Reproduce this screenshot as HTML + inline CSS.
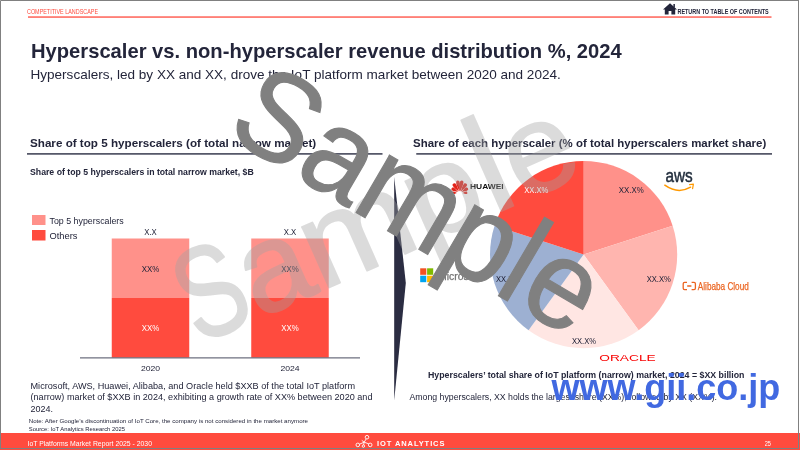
<!DOCTYPE html>
<html><head><meta charset="utf-8"><title>Hyperscaler vs. non-hyperscaler revenue distribution</title>
<style>
html,body{margin:0;padding:0;background:#fff;}
body{width:800px;height:450px;overflow:hidden;}
svg{display:block;font-family:"Liberation Sans",sans-serif;}
</style></head><body>
<svg width="800" height="450" viewBox="0 0 800 450">
<rect x="0" y="0" width="800" height="450" fill="#ffffff"/>
<text x="27" y="13.5" font-size="6.3" font-weight="normal" fill="#ff4b3e" textLength="71.00" lengthAdjust="spacingAndGlyphs">COMPETITIVE LANDSCAPE</text>
<rect x="28" y="16.4" width="743.5" height="1.3" fill="#ff4b3e"/>
<path d="M663 9.6 L670 3.2 L677 9.6 L675.2 9.6 L675.2 14.6 L671.4 14.6 L671.4 11 L668.6 11 L668.6 14.6 L664.8 14.6 L664.8 9.6 Z" fill="#23253a"/>
<rect x="673.4" y="4" width="1.5" height="3.5" fill="#23253a"/>
<text x="677.5" y="13.6" font-size="6.4" font-weight="bold" fill="#23253a" textLength="91.25" lengthAdjust="spacingAndGlyphs">RETURN TO TABLE OF CONTENTS</text>
<text x="31" y="58" font-size="19.8" font-weight="bold" fill="#23253a" textLength="590.75" lengthAdjust="spacingAndGlyphs">Hyperscaler vs. non-hyperscaler revenue distribution %, 2024</text>
<text x="30.5" y="79" font-size="12.6" font-weight="normal" fill="#23253a" textLength="530.25" lengthAdjust="spacingAndGlyphs">Hyperscalers, led by XX and XX, drove the IoT platform market between 2020 and 2024.</text>
<text x="30" y="147" font-size="11.2" font-weight="bold" fill="#23253a" textLength="286.25" lengthAdjust="spacingAndGlyphs">Share of top 5 hyperscalers (of total narrow market)</text>
<text x="413" y="147" font-size="11.2" font-weight="bold" fill="#23253a" textLength="353.25" lengthAdjust="spacingAndGlyphs">Share of each hyperscaler (% of total hyperscalers market share)</text>
<rect x="27" y="153.15" width="355.5" height="1.5" fill="#3a3c50"/>
<rect x="416.25" y="153.15" width="355.75" height="1.5" fill="#3a3c50"/>
<text x="30" y="174.5" font-size="8.4" font-weight="bold" fill="#23253a" textLength="223.75" lengthAdjust="spacingAndGlyphs">Share of top 5 hyperscalers in total narrow market, $B</text>
<rect x="32" y="215" width="13.5" height="10" fill="#ff918a"/>
<rect x="32" y="230" width="13.5" height="10.5" fill="#ff4b3e"/>
<text x="49.5" y="224" font-size="9" font-weight="normal" fill="#23253a" textLength="74.25" lengthAdjust="spacingAndGlyphs">Top 5 hyperscalers</text>
<text x="49.5" y="238.75" font-size="9" font-weight="normal" fill="#23253a" textLength="28.00" lengthAdjust="spacingAndGlyphs">Others</text>
<rect x="111.75" y="238.5" width="77.5" height="59.5" fill="#ff918a"/>
<rect x="111.75" y="298" width="77.5" height="59.5" fill="#ff4b3e"/>
<rect x="251.25" y="238.5" width="77.5" height="59.5" fill="#ff918a"/>
<rect x="251.25" y="298" width="77.5" height="59.5" fill="#ff4b3e"/>
<rect x="80" y="357.4" width="280" height="1" fill="#4a4c60"/>
<text x="144.25" y="234.5" font-size="8.2" font-weight="normal" fill="#23253a" textLength="12.50" lengthAdjust="spacingAndGlyphs">X.X</text>
<text x="141.75" y="272.3" font-size="8.2" font-weight="normal" fill="#23253a" textLength="17.50" lengthAdjust="spacingAndGlyphs">XX%</text>
<text x="141.75" y="331.25" font-size="8.2" font-weight="normal" fill="#ffffff" textLength="17.50" lengthAdjust="spacingAndGlyphs">XX%</text>
<text x="140.9" y="370.5" font-size="7.8" font-weight="normal" fill="#23253a" textLength="19.20" lengthAdjust="spacingAndGlyphs">2020</text>
<text x="283.75" y="234.5" font-size="8.2" font-weight="normal" fill="#23253a" textLength="12.50" lengthAdjust="spacingAndGlyphs">X.X</text>
<text x="281.25" y="272.3" font-size="8.2" font-weight="normal" fill="#23253a" textLength="17.50" lengthAdjust="spacingAndGlyphs">XX%</text>
<text x="281.25" y="331.25" font-size="8.2" font-weight="normal" fill="#ffffff" textLength="17.50" lengthAdjust="spacingAndGlyphs">XX%</text>
<text x="280.4" y="370.5" font-size="7.8" font-weight="normal" fill="#23253a" textLength="19.20" lengthAdjust="spacingAndGlyphs">2024</text>
<text x="30.5" y="388.75" font-size="9" font-weight="normal" fill="#23253a" textLength="324.50" lengthAdjust="spacingAndGlyphs">Microsoft, AWS, Huawei, Alibaba, and Oracle held $XXB of the total IoT platform</text>
<text x="30.5" y="400" font-size="9" font-weight="normal" fill="#23253a" textLength="342.00" lengthAdjust="spacingAndGlyphs">(narrow) market of $XXB in 2024, exhibiting a growth rate of XX% between 2020 and</text>
<text x="30.5" y="411.5" font-size="9" font-weight="normal" fill="#23253a" textLength="22.50" lengthAdjust="spacingAndGlyphs">2024.</text>
<text x="28.75" y="423.25" font-size="5.9" font-weight="normal" fill="#23253a" textLength="279.25" lengthAdjust="spacingAndGlyphs">Note: After Google’s discontinuation of IoT Core, the company is not considered in the market anymore</text>
<text x="28.75" y="430.75" font-size="5.9" font-weight="normal" fill="#23253a" textLength="96.25" lengthAdjust="spacingAndGlyphs">Source: IoT Analytics Research 2025</text>
<path d="M394.2 177 L405.8 283 L394.2 400.5 Z" fill="#2b2d42"/>
<path d="M583.6 254.6 L583.60 161.00 A93.6 93.6 0 0 1 672.62 225.68 Z" fill="#ff918a"/>
<path d="M583.6 254.6 L672.62 225.68 A93.6 93.6 0 0 1 638.62 330.32 Z" fill="#ffb5af"/>
<path d="M583.6 254.6 L638.62 330.32 A93.6 93.6 0 0 1 528.58 330.32 Z" fill="#ffe6e3"/>
<path d="M583.6 254.6 L528.58 330.32 A93.6 93.6 0 0 1 494.58 225.68 Z" fill="#9db0d2"/>
<path d="M583.6 254.6 L494.58 225.68 A93.6 93.6 0 0 1 583.60 161.00 Z" fill="#ff4b3e"/>
<text x="524.3" y="193" font-size="8.4" font-weight="normal" fill="#ffffff" textLength="24.00" lengthAdjust="spacingAndGlyphs">XX.X%</text>
<text x="618.75" y="193" font-size="8.4" font-weight="normal" fill="#23253a" textLength="25.00" lengthAdjust="spacingAndGlyphs">XX.X%</text>
<text x="646.7" y="282.4" font-size="8.4" font-weight="normal" fill="#23253a" textLength="24.20" lengthAdjust="spacingAndGlyphs">XX.X%</text>
<text x="572" y="344.3" font-size="8.4" font-weight="normal" fill="#23253a" textLength="24.00" lengthAdjust="spacingAndGlyphs">XX.X%</text>
<text x="496" y="282.4" font-size="8.4" font-weight="normal" fill="#23253a" textLength="24.00" lengthAdjust="spacingAndGlyphs">XX.X%</text>
<path d="M0 -1.5 C -0.90 -5.01 -2.23 -8.75 -1.66 -11.80 Q 0 -13.73 1.66 -11.80 C 2.23 -8.75 0.90 -5.01 0 -1.5 Z" fill="#e2231a" transform="translate(459.8 193.1) rotate(-10)"/>
<path d="M0 -1.5 C -0.90 -5.01 -2.23 -8.75 -1.66 -11.80 Q 0 -13.73 1.66 -11.80 C 2.23 -8.75 0.90 -5.01 0 -1.5 Z" fill="#e2231a" transform="translate(459.8 193.1) rotate(10)"/>
<path d="M0 -1.8 C -0.93 -4.86 -2.29 -8.12 -1.70 -10.78 Q 0 -12.48 1.70 -10.78 C 2.29 -8.12 0.93 -4.86 0 -1.8 Z" fill="#e2231a" transform="translate(459.8 193.1) rotate(-34)"/>
<path d="M0 -1.8 C -0.93 -4.86 -2.29 -8.12 -1.70 -10.78 Q 0 -12.48 1.70 -10.78 C 2.29 -8.12 0.93 -4.86 0 -1.8 Z" fill="#e2231a" transform="translate(459.8 193.1) rotate(34)"/>
<path d="M0 -2.2 C -0.85 -4.48 -2.11 -6.91 -1.56 -8.89 Q 0 -10.19 1.56 -8.89 C 2.11 -6.91 0.85 -4.48 0 -2.2 Z" fill="#e2231a" transform="translate(459.8 193.1) rotate(-59)"/>
<path d="M0 -2.2 C -0.85 -4.48 -2.11 -6.91 -1.56 -8.89 Q 0 -10.19 1.56 -8.89 C 2.11 -6.91 0.85 -4.48 0 -2.2 Z" fill="#e2231a" transform="translate(459.8 193.1) rotate(59)"/>
<path d="M0 -2.8 C -0.62 -4.30 -1.55 -5.90 -1.15 -7.20 Q 0 -8.11 1.15 -7.20 C 1.55 -5.90 0.62 -4.30 0 -2.8 Z" fill="#e2231a" transform="translate(459.8 193.1) rotate(-88)"/>
<path d="M0 -2.8 C -0.62 -4.30 -1.55 -5.90 -1.15 -7.20 Q 0 -8.11 1.15 -7.20 C 1.55 -5.90 0.62 -4.30 0 -2.8 Z" fill="#e2231a" transform="translate(459.8 193.1) rotate(88)"/>
<text x="470" y="189.1" font-size="7.0" font-weight="bold" fill="#111111" textLength="33.70" lengthAdjust="spacingAndGlyphs">HUAWEI</text>
<text x="665.5" y="182.2" font-size="17.6" font-weight="normal" fill="#232f3e" textLength="27.30" lengthAdjust="spacingAndGlyphs" stroke="#232f3e" stroke-width="0.45">aws</text>
<path d="M664.8 185.2 Q678 194.5 690.6 187.2" fill="none" stroke="#ff9900" stroke-width="1.5" stroke-linecap="round"/>
<path d="M689.6 184.6 L693.4 184.2 L692.6 188.6" fill="none" stroke="#ff9900" stroke-width="1.2" stroke-linecap="round" stroke-linejoin="round"/>
<path d="M687 282.4 H684.6 Q683.2 282.4 683.2 283.8 V288.2 Q683.2 289.6 684.6 289.6 H687 M691.6 282.4 H694 Q695.4 282.4 695.4 283.8 V288.2 Q695.4 289.6 694 289.6 H691.6 M687.2 286 H691.4" fill="none" stroke="#eb6420" stroke-width="1.3"/>
<text x="697.8" y="290.3" font-size="11.8" font-weight="normal" fill="#eb6420" textLength="51.00" lengthAdjust="spacingAndGlyphs" stroke="#eb6420" stroke-width="0.25">Alibaba Cloud</text>
<text x="599.3" y="361.25" font-size="9" font-weight="normal" fill="#f80000" textLength="56.40" lengthAdjust="spacingAndGlyphs">ORACLE</text>
<rect x="420.2" y="268.3" width="6.1" height="6.5" fill="#f25022"/>
<rect x="427.1" y="268.3" width="6.1" height="6.5" fill="#7fba00"/>
<rect x="420.2" y="275.7" width="6.1" height="6.5" fill="#00a4ef"/>
<rect x="427.1" y="275.7" width="6.1" height="6.5" fill="#ffb900"/>
<text x="438" y="279.7" font-size="10" font-weight="normal" fill="#737373" textLength="42.50" lengthAdjust="spacingAndGlyphs" stroke="#737373" stroke-width="0.25">Microsoft</text>
<text x="428" y="377.5" font-size="8.4" font-weight="bold" fill="#23253a" textLength="316.50" lengthAdjust="spacingAndGlyphs">Hyperscalers’ total share of IoT platform (narrow) market, 2024 = $XX billion</text>
<text x="409.5" y="399.5" font-size="8.4" font-weight="normal" fill="#23253a" textLength="307.50" lengthAdjust="spacingAndGlyphs">Among hyperscalers, XX holds the largest share (XX%), followed by XX (XX%).</text>
<rect x="0" y="433" width="800" height="17" fill="#ff4b3e"/>
<text x="27.5" y="445.5" font-size="6.3" font-weight="normal" fill="#ffffff" textLength="124.50" lengthAdjust="spacingAndGlyphs">IoT Platforms Market Report 2025 - 2030</text>
<text x="764.75" y="445.9" font-size="6.3" font-weight="normal" fill="#ffffff" textLength="6.25" lengthAdjust="spacingAndGlyphs">25</text>
<g fill="none" stroke="#ffffff" stroke-width="0.9"><circle cx="367" cy="437.2" r="1.8"/><circle cx="357.8" cy="444.9" r="1.8"/><circle cx="370.2" cy="444.9" r="1.8"/><circle cx="363.4" cy="446.1" r="1.2"/><path d="M366.2 438.9 L364.2 442.2 L359.5 444.2 M364.2 442.2 L368.8 443.9 M364.2 442.2 L363.6 445 M361.8 440.4 L364.2 442.2"/></g>
<text transform="translate(377 445.5) scale(1.18 1)" x="0" y="0" font-size="6.4" font-weight="bold" fill="#ffffff" textLength="57.2" lengthAdjust="spacing">IOT ANALYTICS</text>
<text transform="translate(198.87 345.10) rotate(-23.88)" x="0" y="0" fill="#a3a3a3" stroke="#a3a3a3" stroke-width="1.8" stroke-linejoin="round" opacity="0.38"><tspan font-size="130.40" textLength="65.16" lengthAdjust="spacingAndGlyphs">S</tspan><tspan font-size="125.29" textLength="67.99" lengthAdjust="spacingAndGlyphs">a</tspan><tspan font-size="125.29" textLength="113.42" lengthAdjust="spacingAndGlyphs">m</tspan><tspan font-size="125.29" textLength="74.52" lengthAdjust="spacingAndGlyphs">p</tspan><tspan font-size="137.05" textLength="32.51" lengthAdjust="spacingAndGlyphs">l</tspan><tspan font-size="125.29" textLength="70.69" lengthAdjust="spacingAndGlyphs">e</tspan></text>
<text transform="translate(223.6 134.6) rotate(30.4) scale(0.975 1.03)" x="0" y="0" font-size="122" fill="#808080" stroke="#808080" stroke-width="1.1">Sample</text>
<text x="551.6" y="400" font-size="37.5" font-weight="bold" fill="#4169e1" textLength="228.60" lengthAdjust="spacingAndGlyphs">www.gii.co.jp</text>
<path d="M0.5 449 V0.5 H799" fill="none" stroke="#808080" stroke-width="1"/>
<path d="M798.5 0 V448.5 H0" fill="none" stroke="#808080" stroke-width="1"/>
</svg>
</body></html>
